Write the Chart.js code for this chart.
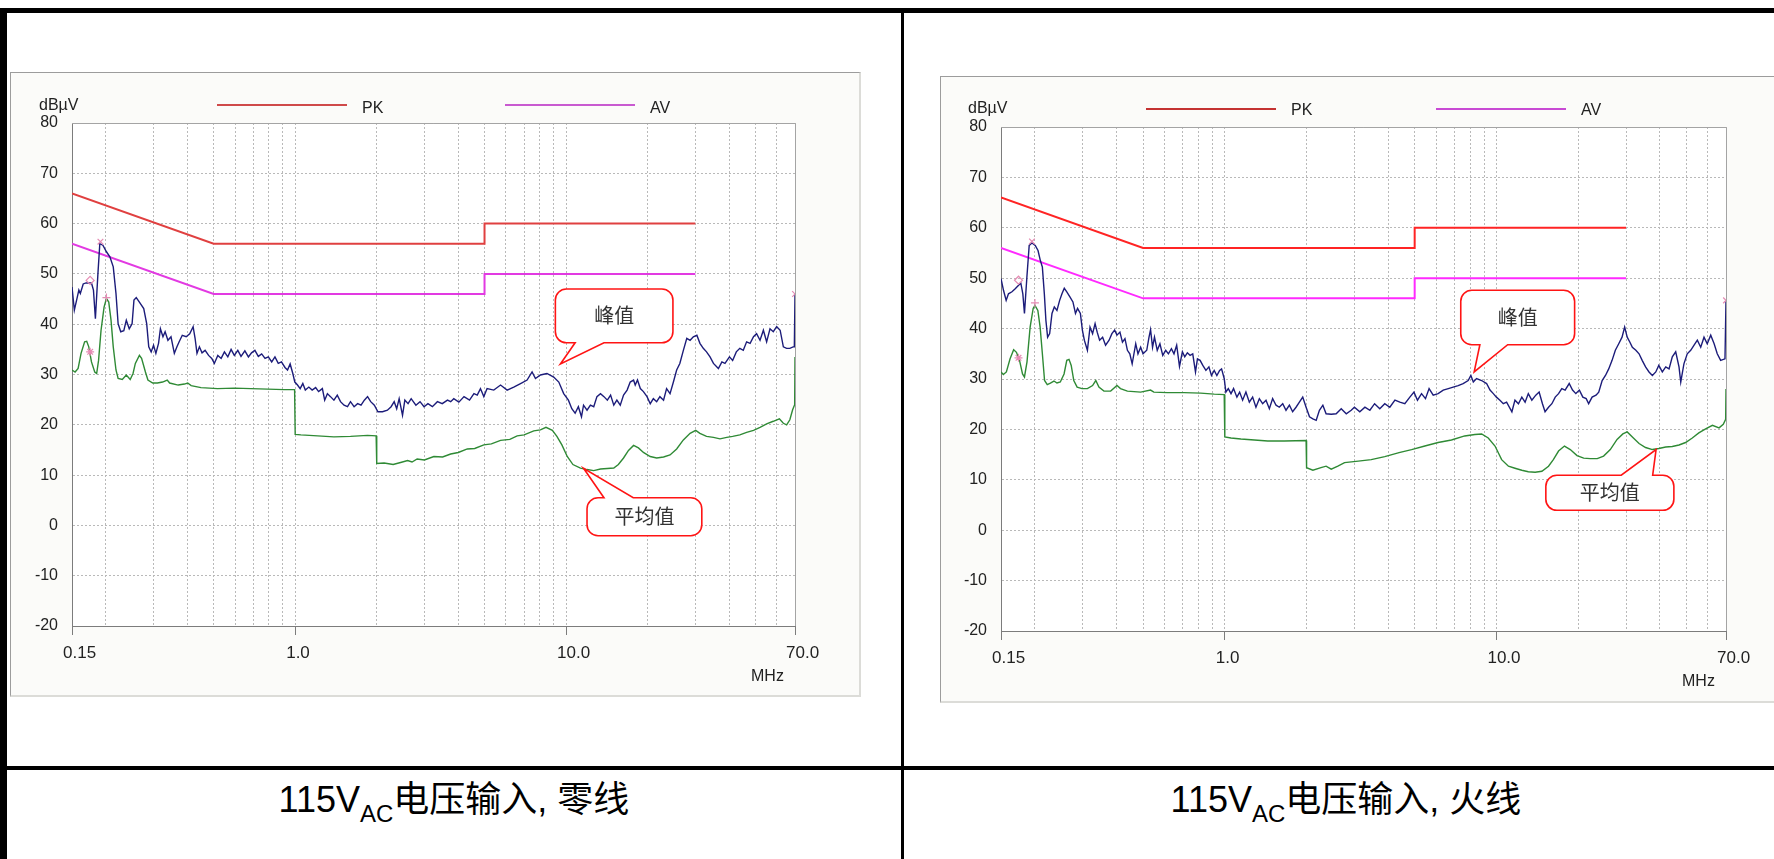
<!DOCTYPE html>
<html>
<head>
<meta charset="utf-8">
<title>传导干扰测试 115VAC</title>
<script src="https://cdn.jsdelivr.net/npm/chart.js@4.4.1/dist/chart.umd.min.js"></script>
<style>
  html, body { margin: 0; padding: 0; background: #fff; }
  body { width: 1774px; height: 859px; position: relative; overflow: hidden; font-family: "Liberation Sans", Arial, sans-serif; }
  .rule { position: absolute; background: #000; }
  .frame { position: absolute; box-sizing: border-box; background: #fbfbf9;
           border-top: 1px solid #9c9c9c; border-left: 1px solid #9c9c9c;
           border-right: 2px solid #dcdcd8; border-bottom: 2px solid #dcdcd8; }
  canvas.emi { position: absolute; }
  .lbl { position: absolute; font-size: 16px; line-height: 16px; color: #222; white-space: nowrap; }
  .key { position: absolute; height: 2px; width: 130px; }
  .cap { position: absolute; top: 782px; font-size: 36px; line-height: 36px; text-align: center; color: #000;
         font-family: "Liberation Sans", "Noto Sans CJK SC", sans-serif; white-space: nowrap; }
  .cap sub { font-size: 24px; vertical-align: baseline; position: relative; top: 10px; }
</style>
</head>
<body>
<div class="rule" style="left:0;top:8px;width:1774px;height:5px"></div>
<div class="rule" style="left:0;top:8px;width:7px;height:851px"></div>
<div class="rule" style="left:901px;top:8px;width:3px;height:851px"></div>
<div class="rule" style="left:0;top:766px;width:1774px;height:4px"></div>

<div class="frame" style="left:10px;top:72px;width:851px;height:625px"></div>
<div class="frame" style="left:940px;top:76px;width:850px;height:627px"></div>

<canvas id="chartN" class="emi" width="851" height="625" style="left:10px;top:72px"></canvas>
<canvas id="chartL" class="emi" width="834" height="627" style="left:940px;top:76px"></canvas>

<div class="lbl" style="left:39px;top:97px">dBµV</div>
<div class="key" style="left:217px;top:104px;background:#cf4a4a"></div>
<div class="lbl" style="left:362px;top:100px">PK</div>
<div class="key" style="left:505px;top:104px;background:#c85ad0"></div>
<div class="lbl" style="left:650px;top:100px">AV</div>
<div class="lbl" style="left:751px;top:668px">MHz</div>

<div class="lbl" style="left:968px;top:100px">dBµV</div>
<div class="key" style="left:1146px;top:108px;background:#c43232"></div>
<div class="lbl" style="left:1291px;top:102px">PK</div>
<div class="key" style="left:1436px;top:108px;background:#c84ad4"></div>
<div class="lbl" style="left:1581px;top:102px">AV</div>
<div class="lbl" style="left:1682px;top:673px">MHz</div>

<div class="cap" style="left:7px;width:894px">115V<sub>AC</sub>电压输入, 零线</div>
<div class="cap" style="left:904px;width:884px">115V<sub>AC</sub>电压输入, 火线</div>

<script>
// frequency grid (MHz) and labelled ticks
const gridFreqs = [0.15, 0.2, 0.3, 0.4, 0.5, 0.6, 0.7, 0.8, 0.9, 1, 2, 3, 4, 5, 6, 7, 8, 9, 10, 20, 30, 40, 50, 60, 70];
const labelFreqs = [0.15, 1, 10, 70];
const labelTexts = ['0.15', '1.0', '10.0', '70.0'];

// limit lines (dBuV)
const limitFreqs = [0.15, 0.5, 5, 5, 30];
const pkLimit = [66, 56, 56, 60, 60];
const avLimit = [56, 46, 46, 50, 50];

// neutral line (零线) peak trace [MHz, dBuV]
const peakNeutral = [
  [0.15,47.4],[0.153,42.8],[0.156,44.8],[0.159,46.8],[0.161,46.1],[0.165,48],[0.169,48.2],[0.177,48.2],[0.18,46.8],[0.183,41.1],
  [0.187,50.1],[0.19,56],[0.195,55.7],[0.201,54.4],[0.207,53.4],[0.213,51.4],[0.218,46.1],[0.222,40.1],[0.227,38.5],[0.233,38.7],
  [0.238,40.8],[0.244,39.1],[0.25,40.1],[0.254,44.8],[0.259,45.3],[0.266,44.4],[0.276,43.1],[0.283,40.1],[0.288,35.5],[0.294,34.5],
  [0.3,35.8],[0.306,34.2],[0.313,36.2],[0.318,39.1],[0.325,37.5],[0.331,38.5],[0.339,36.8],[0.348,37.5],[0.358,34.2],[0.366,35.5],
  [0.373,36.5],[0.383,37.8],[0.396,37.5],[0.408,38.1],[0.42,39.5],[0.427,37.2],[0.434,34.2],[0.443,35.5],[0.453,34.3],[0.465,34.8],
  [0.479,33.8],[0.492,33.2],[0.503,32.2],[0.518,33.8],[0.533,33.2],[0.548,34.5],[0.564,33.5],[0.58,35],[0.596,33.8],[0.614,34.8],
  [0.631,33.6],[0.652,34.7],[0.672,33.5],[0.69,34.3],[0.71,34.8],[0.731,33.6],[0.752,34.1],[0.774,33.2],[0.796,33.5],[0.819,32.5],
  [0.842,33.5],[0.866,32.2],[0.89,32.5],[0.917,31.4],[0.937,30.9],[0.958,32.1],[0.98,30.2],[0.997,28.5],[1.02,27.9],[1.043,27.2],
  [1.067,28.2],[1.09,26.9],[1.123,27.5],[1.155,26.9],[1.19,27.4],[1.22,26.6],[1.26,27.2],[1.285,24.9],[1.315,26.2],[1.35,25.6],
  [1.39,24.9],[1.43,25.9],[1.47,24.6],[1.515,23.9],[1.56,23.6],[1.6,24.6],[1.65,23.6],[1.7,24.2],[1.75,23.9],[1.8,24.9],
  [1.85,25.6],[1.9,24.6],[1.96,23.9],[2.02,22.6],[2.1,22.6],[2.19,22.9],[2.26,23.6],[2.32,24.6],[2.37,23.2],[2.42,25.2],
  [2.49,21.9],[2.54,24.9],[2.61,24.2],[2.68,25.2],[2.79,23.9],[2.89,24.6],[2.99,23.6],[3.09,24.2],[3.21,23.6],[3.35,24.6],
  [3.49,24.2],[3.65,24.9],[3.75,24.6],[3.85,25.2],[4.02,24.5],[4.2,25.6],[4.4,24.9],[4.57,26.2],[4.7,25.9],[4.83,27.2],
  [4.97,25.6],[5.11,27.2],[5.41,26.9],[5.73,27.9],[6.06,26.9],[6.41,27.5],[6.79,28.2],[7.18,28.9],[7.49,30.5],[7.71,29.2],
  [8.04,29.9],[8.5,30.2],[9.0,29.5],[9.4,28.5],[9.8,26.2],[10.2,24.9],[10.5,23.2],[10.8,22.3],[11.1,23.6],[11.4,21.6],
  [11.6,23.9],[11.95,22.9],[12.3,23.9],[12.65,23.6],[13.0,25.6],[13.4,26.2],[13.8,25.6],[14.2,24.9],[14.6,25.9],[15.0,23.9],
  [15.4,24.9],[15.85,23.9],[16.3,25.9],[16.8,26.9],[17.25,28.5],[17.75,28.9],[18.0,27.9],[18.35,28.9],[18.8,27.2],[19.3,26.6],
  [19.9,25.6],[20.45,24.2],[21.0,25.2],[21.6,24.6],[22.2,25.6],[22.9,24.9],[23.5,27.2],[24.2,26.2],[24.9,28.5],[25.6,30.9],
  [26.3,32.2],[27.1,34.8],[27.9,37.2],[28.7,36.8],[29.5,37.5],[30.4,37.8],[31.2,36.2],[32.1,35.2],[33.0,34.5],[34.0,33.5],
  [35.0,32.2],[36.5,31.2],[37.6,32.5],[38.6,32.2],[40.1,33.5],[41.2,32.8],[42.5,34.5],[43.8,35.2],[45.1,34.8],[46.4,36.5],
  [47.8,36.2],[49.2,37.5],[50.5,38.1],[52,36.8],[53.5,38.8],[55,36.5],[56.6,39.1],[58.2,38.5],[59.9,39.5],[61.7,38.8],
  [63.4,35.5],[65.2,35.2],[67,35.2],[68.9,35.5],[69.6,35.5],[70,46]
];

// neutral line (零线) average trace
const avgNeutral = [
  [0.15,30.9],[0.154,30.5],[0.158,31.2],[0.162,34.2],[0.167,36.5],[0.17,36.6],[0.173,35.5],[0.177,32.5],[0.182,30.5],[0.185,30.2],
  [0.188,32.8],[0.192,38.8],[0.197,43.4],[0.201,45.1],[0.205,44.4],[0.209,40.8],[0.213,35.5],[0.218,30.9],[0.222,29.2],[0.23,29],
  [0.238,29.9],[0.246,29],[0.252,30.2],[0.257,32.2],[0.266,33.8],[0.271,33.2],[0.28,30.5],[0.286,28.9],[0.298,28.3],[0.31,28.3],
  [0.324,28.5],[0.337,28.9],[0.344,28.3],[0.37,27.9],[0.39,28.1],[0.401,28.3],[0.413,27.8],[0.449,27.4],[0.517,27.2],[0.596,27.3],
  [0.687,27.2],[0.791,27.1],[0.911,27.0],[0.995,27.0],[1.0,18.1],[1.05,18.0],[1.21,17.8],[1.39,17.6],[1.6,17.7],[1.85,17.9],
  [1.99,17.8],[2.0,12.3],[2.13,12.4],[2.3,12.1],[2.45,12.5],[2.6,12.9],[2.7,12.6],[2.82,13.2],[3.0,13.0],[3.25,13.7],
  [3.5,13.6],[3.75,14.2],[4.0,14.5],[4.32,15.2],[4.6,15.3],[4.97,16],[5.3,16.2],[5.73,16.9],[6.2,17.1],[6.6,17.8],
  [7.0,18.0],[7.6,18.8],[8.04,19],[8.43,19.5],[8.9,18.9],[9.25,17.7],[9.65,16],[10.1,13.7],[10.6,12.1],[11.3,11.4],
  [11.95,11.1],[12.65,10.9],[13.4,11.2],[14.2,11.3],[15.0,11.4],[15.6,12.1],[16.3,13.4],[17.0,14.9],[17.75,15.9],[18.5,15.4],
  [19.3,14.5],[20.45,13.7],[21.6,13.4],[22.9,13.6],[24.2,14.0],[25.6,15.2],[27.1,17.0],[28.7,18.3],[30.1,18.9],[31.2,18.3],
  [33.0,17.7],[35.0,17.5],[37.0,17.2],[39.2,17.5],[41.2,17.7],[43.8,18.0],[46.4,18.5],[49.2,18.9],[52,19.5],[55,20.2],
  [58.2,20.7],[61.3,21.2],[63.4,20.3],[65.2,20],[67,21],[68.6,23],[69.8,24],[70,33.5]
];

// live line (火线) peak trace
const peakLive = [
  [0.15,49.9],[0.1532,47.6],[0.1567,45.6],[0.1598,46.9],[0.1646,47.3],[0.1692,47.9],[0.1741,48.6],[0.1775,49],[0.1805,46.9],[0.183,43],
  [0.1868,50.2],[0.1905,56.5],[0.195,57],[0.2005,56.5],[0.2053,55.5],[0.2094,53.5],[0.213,52.2],[0.2166,46.9],[0.2195,41.6],[0.2227,38.3],
  [0.2266,39],[0.2311,43],[0.2357,44.3],[0.241,43.6],[0.2466,45.6],[0.2515,46.9],[0.2565,48],[0.262,47.3],[0.269,46.3],[0.276,45.3],
  [0.282,43],[0.287,44],[0.294,43],[0.299,39.7],[0.304,37.7],[0.312,35.7],[0.319,40.3],[0.326,39],[0.333,41],[0.339,39.3],
  [0.346,37.7],[0.355,38.3],[0.364,36.7],[0.375,37.7],[0.384,39],[0.393,39.7],[0.401,38.7],[0.411,39.3],[0.42,37.3],[0.429,38],
  [0.438,35.7],[0.447,35],[0.456,33],[0.47,37],[0.479,35],[0.49,36.3],[0.5,35],[0.516,35.7],[0.526,38.3],[0.533,39.8],
  [0.542,36.3],[0.551,38.3],[0.564,35.7],[0.577,37],[0.591,34.7],[0.606,35.7],[0.62,35],[0.636,36],[0.65,35],[0.665,36.7],
  [0.681,32.5],[0.698,35.4],[0.712,34.4],[0.728,35.2],[0.745,34.7],[0.762,35],[0.78,31.4],[0.793,34],[0.811,33.7],[0.83,32.7],
  [0.852,31.7],[0.874,32.4],[0.893,30.7],[0.914,31.7],[0.935,30.7],[0.957,31.7],[0.973,32],[0.995,30.1],[1.009,27.4],[1.03,28.1],
  [1.054,27.1],[1.077,28.1],[1.108,26.4],[1.134,27.4],[1.163,25.8],[1.196,27.4],[1.231,25.4],[1.266,26.4],[1.302,24.4],[1.34,26.1],
  [1.378,25.1],[1.418,25.8],[1.459,24.1],[1.5,26.1],[1.544,24.8],[1.587,24.4],[1.634,25.1],[1.68,23.8],[1.729,24.8],[1.777,23.5],
  [1.829,24.4],[1.882,25.4],[1.936,26.4],[1.992,24.4],[2.05,22.5],[2.11,22.1],[2.17,21.8],[2.23,23.8],[2.296,24.8],[2.36,23.1],
  [2.465,23],[2.57,23.1],[2.683,24.1],[2.8,23.1],[2.92,23.8],[3.0,24.4],[3.14,23.5],[3.28,24.4],[3.42,23.8],[3.56,25.1],
  [3.72,24.1],[3.88,25.1],[4.05,24.4],[4.23,25.8],[4.41,25.4],[4.6,25.1],[4.8,26.4],[4.97,27.4],[5.12,25.8],[5.3,27.1],
  [5.48,26.1],[5.65,28.1],[5.85,26.8],[6.1,27.1],[6.37,27.8],[6.65,28.1],[6.93,28.4],[7.23,28.7],[7.54,29.1],[7.87,29.7],
  [8.05,30.7],[8.22,29.4],[8.45,30.1],[8.82,29.7],[9.2,29.1],[9.47,27.8],[9.74,27.1],[10.0,26.4],[10.3,25.8],[10.6,25.1],
  [10.9,25.4],[11.4,23.5],[11.7,25.8],[12.05,25.1],[12.4,26.4],[12.75,25.4],[13.1,27.1],[13.5,25.8],[13.96,26.8],[14.36,27.4],
  [14.77,25.1],[15.1,23.5],[15.55,24.4],[16.0,25.1],[16.46,26.4],[16.93,27.1],[17.4,28.1],[17.9,27.8],[18.53,29.1],[19.06,27.8],
  [19.6,27.1],[20.2,27.8],[20.8,26.4],[21.4,26.1],[21.85,25.1],[22.5,26.4],[23.26,26.8],[23.8,27.4],[24.5,29.7],[25.2,30.7],
  [25.9,32],[26.65,33.7],[27.4,35.7],[28.2,37],[29.0,38.3],[29.65,40.3],[30.3,38.3],[31,37.3],[31.65,36.3],[32.6,35.7],
  [33.5,35],[34.4,33.7],[35.4,32.4],[36.45,31.4],[37.5,30.7],[38.6,31.4],[39.6,32.7],[40.8,31.4],[42,32.4],[43.2,32],
  [44.4,34.4],[45.7,35.4],[47,32.4],[47.7,29.4],[49,33],[50.4,35],[51.9,35.7],[53.4,36.7],[54.9,37.7],[56.5,36.3],
  [58.1,38.3],[59.7,37],[61.5,38.7],[63.3,37],[65,35],[66.9,33.7],[69.4,34],[70,45.6]
];

// live line (火线) average trace
const avgLive = [
  [0.15,31.4],[0.153,30.9],[0.157,31.4],[0.162,34],[0.167,35.8],[0.171,35.3],[0.1755,33.7],[0.18,31],[0.183,30.4],[0.187,33.4],
  [0.192,40.3],[0.197,44],[0.2,44.6],[0.205,43.6],[0.209,40.3],[0.213,35],[0.217,29.7],[0.222,28.9],[0.228,29.2],[0.235,29.6],
  [0.241,29.2],[0.248,29.4],[0.256,31],[0.262,33.7],[0.267,33.9],[0.272,32.7],[0.278,29.7],[0.286,28.4],[0.298,28.1],[0.312,28.1],
  [0.326,28.7],[0.335,29.7],[0.344,28.4],[0.359,27.6],[0.38,27.6],[0.401,28.7],[0.413,28.1],[0.438,27.6],[0.49,27.4],[0.533,27.8],
  [0.548,27.4],[0.614,27.3],[0.708,27.3],[0.815,27.2],[0.914,27],[0.995,26.9],[1.0,18.5],[1.054,18.3],[1.146,18.1],[1.285,17.9],
  [1.439,17.7],[1.656,17.7],[1.992,17.8],[2.0,12.4],[2.11,11.9],[2.26,12.4],[2.36,12.7],[2.465,12.1],[2.607,12.7],[2.76,13.4],
  [3.1,13.7],[3.46,14],[3.88,14.6],[4.38,15.4],[4.87,16],[5.45,16.7],[6.1,17.4],[6.83,17.9],[7.64,18.7],[8.33,19],
  [8.82,19.1],[9.33,18.3],[9.88,16.7],[10.45,14],[11.07,12.7],[11.7,12.3],[12.4,11.9],[13.1,11.6],[13.88,11.5],[14.7,11.7],
  [15.55,12.7],[16.2,14],[16.93,15.7],[17.8,16.7],[18.7,16],[19.8,14.8],[20.95,14.3],[22.15,14.2],[23.5,14.2],[24.8,14.7],
  [26.25,16],[27.8,18],[29.2,19.1],[30.3,19.5],[31.65,18.5],[33.5,17.2],[35.4,16.4],[37.5,16],[39.6,16.2],[42,16.5],
  [44.4,16.6],[47,16.9],[49.7,17.4],[52.6,18.3],[55.6,19.3],[58.9,20.1],[62.4,20.8],[66,20.3],[68.4,21],[69.8,22],[70,28]
];

// peak markers of the receiver software
const markersNeutral = [[0.175,48.7],[0.191,56.4],[0.201,45.3],[0.175,34.5],[70,46]];
const markersLive = [[0.174,49.6],[0.195,57.3],[0.2,45.1],[0.174,34.2],[70,45.6]];
const markerStyles = ['rectRot', 'crossRot', 'cross', 'star', 'crossRot'];

// callouts: tip [MHz, dB], box [fLeft, fRight, dbTop, dbBottom], base [fFrom, fTo]
const calloutsNeutral = [
  { text: '峰值', tip: [9.53, 32.1], box: [9.13, 24.8, 47.0, 36.3], base: [10.8, 13.8] },
  { text: '平均值', tip: [11.6, 11.35], box: [11.95, 31.7, 5.5, -2.05], base: [13.8, 17.7] }
];
const calloutsLive = [
  { text: '峰值', tip: [8.28, 31.4], box: [7.39, 19.4, 47.6, 36.8], base: [8.69, 11.0] },
  { text: '平均值', tip: [38.7, 16.0], box: [15.2, 45.0, 10.9, 3.95], base: [28.8, 37.6] }
];

function toXY(pairs) {
  return pairs.map(p => ({ x: p[0], y: p[1] }));
}

function zipXY(xs, ys) {
  return xs.map((x, i) => ({ x: x, y: ys[i] }));
}

const plotBox = {
  id: 'plotBox',
  beforeDraw(chart) {
    const { ctx, chartArea: a } = chart;
    ctx.save();
    ctx.fillStyle = '#ffffff';
    ctx.fillRect(a.left, a.top, a.width, a.height);
    ctx.restore();
  },
  beforeDatasetsDraw(chart) {
    const { ctx, chartArea: a } = chart;
    ctx.save();
    ctx.strokeStyle = '#a4a4a4';
    ctx.lineWidth = 1;
    ctx.beginPath();
    ctx.moveTo(a.left, a.top + 0.5);
    ctx.lineTo(a.right + 0.5, a.top + 0.5);
    ctx.lineTo(a.right + 0.5, a.bottom);
    ctx.stroke();
    ctx.restore();
  }
};

const callouts = {
  id: 'callouts',
  afterDatasetsDraw(chart, args, opts) {
    const { ctx } = chart;
    const xs = chart.scales.x, ys = chart.scales.y;
    (opts.items || []).forEach(c => {
      const L = xs.getPixelForValue(c.box[0]), R = xs.getPixelForValue(c.box[1]);
      const T = ys.getPixelForValue(c.box[2]), B = ys.getPixelForValue(c.box[3]);
      const tx = xs.getPixelForValue(c.tip[0]), ty = ys.getPixelForValue(c.tip[1]);
      const b0 = xs.getPixelForValue(c.base[0]), b1 = xs.getPixelForValue(c.base[1]);
      const r = 11;
      ctx.save();
      ctx.beginPath();
      ctx.moveTo(L + r, T);
      if (ty < T) { ctx.lineTo(b0, T); ctx.lineTo(tx, ty); ctx.lineTo(b1, T); }
      ctx.lineTo(R - r, T);
      ctx.arcTo(R, T, R, T + r, r);
      ctx.lineTo(R, B - r);
      ctx.arcTo(R, B, R - r, B, r);
      if (ty > B) { ctx.lineTo(b1, B); ctx.lineTo(tx, ty); ctx.lineTo(b0, B); }
      ctx.lineTo(L + r, B);
      ctx.arcTo(L, B, L, B - r, r);
      ctx.lineTo(L, T + r);
      ctx.arcTo(L, T, L + r, T, r);
      ctx.closePath();
      ctx.fillStyle = '#ffffff';
      ctx.fill();
      ctx.strokeStyle = '#ff1414';
      ctx.lineWidth = 1.6;
      ctx.stroke();
      ctx.fillStyle = '#333';
      ctx.font = '20px "Noto Sans CJK SC"';
      ctx.textAlign = 'center';
      ctx.textBaseline = 'middle';
      ctx.fillText(c.text, (L + R) / 2, (T + B) / 2);
      ctx.restore();
    });
  }
};

function buildChart(id, cfg) {
  const ctx = document.getElementById(id).getContext('2d');
  return new Chart(ctx, {
    type: 'line',
    data: {
      datasets: [
        {
          label: 'markers', data: toXY(cfg.markers), showLine: false,
          pointStyle: markerStyles, pointRadius: 4, pointBorderWidth: 1.2,
          pointBorderColor: '#e58cb4', pointBackgroundColor: 'rgba(0,0,0,0)'
        },
        { label: '峰值', data: toXY(cfg.peak), borderColor: '#1c1c7a', borderWidth: 1.4 },
        { label: '平均值', data: toXY(cfg.avg), borderColor: '#2f8a35', borderWidth: 1.4 },
        { label: 'PK', data: zipXY(limitFreqs, pkLimit), borderColor: cfg.pkColor, borderWidth: 2 },
        { label: 'AV', data: zipXY(limitFreqs, avLimit), borderColor: cfg.avColor, borderWidth: 2 }
      ]
    },
    options: {
      responsive: false,
      animation: false,
      parsing: false,
      elements: { point: { radius: 0 }, line: { tension: 0, fill: false } },
      layout: { padding: cfg.pad },
      plugins: {
        legend: { display: false },
        tooltip: { enabled: false },
        callouts: { items: cfg.callouts }
      },
      scales: {
        x: {
          type: 'logarithmic', min: 0.15, max: 70,
          afterBuildTicks: s => { s.ticks = gridFreqs.map(v => ({ value: v })); },
          afterFit: s => { s.height = cfg.xHeight; },
          ticks: {
            autoSkip: false, maxRotation: 0, align: 'start', labelOffset: -9, padding: 8,
            color: '#222', font: { family: 'Liberation Sans', size: 17 },
            callback: v => { const i = labelFreqs.indexOf(v); return i < 0 ? '' : labelTexts[i]; }
          },
          grid: {
            color: '#b9b9b9', tickLength: 9, borderDash: [2, 2],
            tickColor: c => (c.tick && labelFreqs.includes(c.tick.value)) ? '#7c7c7c' : 'rgba(0,0,0,0)'
          },
          border: { color: '#7c7c7c', dash: [2, 2] }
        },
        y: {
          min: -20, max: 80,
          afterFit: s => { s.width = cfg.yWidth; },
          ticks: { stepSize: 10, padding: 14, color: '#222', font: { family: 'Liberation Sans', size: 16 } },
          grid: { color: '#b9b9b9', drawTicks: false, borderDash: [2, 2] },
          border: { color: '#7c7c7c', dash: [2, 2] }
        }
      }
    },
    plugins: [plotBox, callouts]
  });
}

buildChart('chartN', {
  peak: peakNeutral, avg: avgNeutral, markers: markersNeutral, callouts: calloutsNeutral,
  pkColor: '#e04040', avColor: '#e23ae2',
  pad: { left: 0, top: 51, right: 66, bottom: 0 }, yWidth: 62, xHeight: 71
});

buildChart('chartL', {
  peak: peakLive, avg: avgLive, markers: markersLive, callouts: calloutsLive,
  pkColor: '#ff2424', avColor: '#ff2aff',
  pad: { left: 0, top: 51, right: 48, bottom: 0 }, yWidth: 61, xHeight: 72
});
</script>
</body>
</html>
